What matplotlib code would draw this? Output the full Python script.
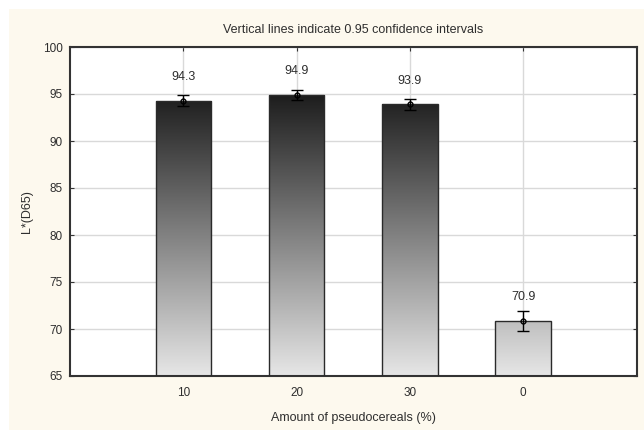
import matplotlib.pyplot as plt
import numpy as np
from matplotlib.colors import LinearSegmentedColormap
from matplotlib.patches import Rectangle

plt.rcParams['font.family'] = ['Liberation Sans', 'DejaVu Sans']

categories = ['10', '20', '30', '0']
means = [94.3, 94.9, 93.9, 70.9]
ci_half = [0.62, 0.53, 0.62, 1.06]
y_ticks = [65, 70, 75, 80, 85, 90, 95, 100]

TEXT_COLOUR = '#2e2e2e'
CREAM = '#fdf9ee'
GRID_COLOUR = '#d9d9d9'

fig = plt.figure(figsize=(6.44, 4.30), dpi=100)
fig.patch.set_facecolor('white')
fig.patches.append(Rectangle((9 / 644, 0), 1, 1 - 9 / 430, transform=fig.transFigure,
                             facecolor=CREAM, edgecolor='none', zorder=-10))

ax = fig.add_axes([70 / 644, 1 - 376 / 430, 566.5 / 644, 329 / 430])
ax.set_facecolor('white')

positions = np.arange(1, len(categories) + 1)
bar_width = 0.49

# gradient depends on absolute height, dark at the top
cmap = LinearSegmentedColormap.from_list('grey_grad', ['#e6e6e6', '#1c1c1c'])
gradient = np.linspace(0, 1, 256).reshape(-1, 1)

bars = ax.bar(positions, [m - 65 for m in means], bottom=65, width=bar_width,
              facecolor='none', edgecolor='#2a2a2a', linewidth=1.0, zorder=3)
for bar in bars:
    x0 = bar.get_x()
    img = ax.imshow(gradient, cmap=cmap, aspect='auto', origin='lower',
                    extent=(x0, x0 + bar_width, 65, 95), zorder=2)
    img.set_clip_path(bar)

ax.set_xlim(0, 5)
ax.set_ylim(65, 100)

ax.errorbar(positions, means, yerr=ci_half, fmt='o', markersize=3.5,
            markerfacecolor='none', markeredgecolor='black', ecolor='black',
            elinewidth=1.0, capsize=4, capthick=1.0, zorder=5)

for x, m in zip(positions, means):
    ax.annotate(f'{m:.1f}', (x, m), xytext=(0, 17), textcoords='offset points',
                ha='center', va='center', fontsize=9, color=TEXT_COLOUR)

ax.set_xticks(positions)
ax.set_xticklabels(categories)
ax.set_yticks(y_ticks)
ax.grid(True, color=GRID_COLOUR, linewidth=1.0, zorder=0)
ax.set_axisbelow(True)
ax.tick_params(direction='in', length=3, colors='#333333', labelsize=8.5,
               labelcolor=TEXT_COLOUR, top=True, right=True, pad=8)
ax.tick_params(axis='y', pad=5)
for spine in ax.spines.values():
    spine.set_color('#333333')
    spine.set_linewidth(1.5)

ax.set_title('Vertical lines indicate 0.95 confidence intervals', fontsize=9,
             color=TEXT_COLOUR, pad=10)
ax.set_xlabel('Amount of pseudocereals (%)', fontsize=9, color=TEXT_COLOUR, labelpad=9)
ax.set_ylabel('L*(D65)', fontsize=9, color=TEXT_COLOUR, labelpad=7)

fig.savefig('out.png', dpi=100, facecolor=fig.get_facecolor())
